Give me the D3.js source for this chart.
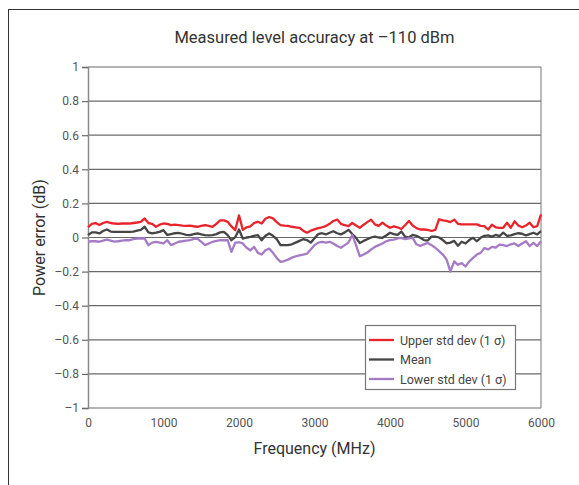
<!DOCTYPE html>
<html>
<head>
<meta charset="utf-8">
<script src="https://cdn.jsdelivr.net/npm/d3@7"></script>
<style>
  body { margin: 0; background: #fff; }
  text { font-family: Roboto, "Liberation Sans", sans-serif; }
</style>
</head>
<body>
<div id="chart"></div>
<script>
// frequency grid, MHz (every 50 MHz)
const freq = d3.range(0, 6001, 50);

const upper = [
  0.06, 0.08, 0.085, 0.073, 0.085, 0.092, 0.085, 0.082, 0.08, 0.082,
  0.082, 0.082, 0.085, 0.088, 0.092, 0.112, 0.085, 0.08, 0.063, 0.075,
  0.082, 0.08, 0.073, 0.075, 0.073, 0.07, 0.068, 0.07, 0.066, 0.063,
  0.068, 0.072, 0.068, 0.063, 0.08, 0.1, 0.1, 0.092, 0.065, 0.043,
  0.13, 0.045, 0.06, 0.065, 0.085, 0.092, 0.082, 0.11, 0.12, 0.112,
  0.09, 0.073, 0.07, 0.068, 0.063, 0.06, 0.057, 0.04, 0.028, 0.04,
  0.048, 0.055, 0.06, 0.067, 0.08, 0.097, 0.105, 0.08, 0.072, 0.067,
  0.085, 0.07, 0.057, 0.075, 0.09, 0.105, 0.077, 0.068, 0.087, 0.07,
  0.057, 0.065, 0.06, 0.05, 0.072, 0.097, 0.07, 0.055, 0.047, 0.047,
  0.045, 0.038, 0.045, 0.107, 0.1, 0.097, 0.09, 0.105, 0.08, 0.077,
  0.077, 0.077, 0.077, 0.077, 0.068, 0.067, 0.047, 0.075, 0.06, 0.057,
  0.057, 0.087, 0.057, 0.095, 0.07, 0.06, 0.07, 0.087, 0.06, 0.067,
  0.136
];

const mean = [
  0.014, 0.03, 0.03, 0.024, 0.038, 0.047, 0.035, 0.033, 0.033, 0.033,
  0.033, 0.033, 0.035, 0.04, 0.045, 0.063, 0.03, 0.024, 0.028, 0.033,
  0.043, 0.015, 0.02, 0.025, 0.027, 0.022, 0.016, 0.014, 0.02, 0.024,
  0.018, 0.014, 0.012, 0.014, 0.02, 0.03, 0.033, 0.014, -0.016, 0.002,
  0.047, -0.006, 0.0, 0.004, 0.01, 0.014, -0.016, 0.01, 0.024, 0.01,
  -0.01, -0.045, -0.045, -0.045, -0.04, -0.03, -0.02, -0.01, -0.015, -0.03,
  -0.005, 0.02, 0.025, 0.018, 0.028, 0.037, 0.025, 0.018, 0.03, 0.045,
  0.02, -0.002, -0.032, -0.02, -0.01, 0.0, 0.005, 0.0, -0.002, 0.012,
  0.028, 0.02, 0.015, 0.035, 0.005, 0.0, 0.015, 0.01, -0.002, -0.015,
  -0.018, 0.005, 0.005, 0.0, -0.015, -0.035, -0.03, -0.02, -0.048, -0.025,
  -0.035, -0.015, -0.002, -0.022, -0.002, 0.01, 0.012, 0.005, 0.015, 0.008,
  0.028, 0.01, 0.012, 0.02, 0.025, 0.022, 0.012, 0.02, 0.028, 0.018,
  0.037
];

const lower = [
  -0.025, -0.022, -0.022, -0.025, -0.018, -0.012, -0.018, -0.024, -0.022, -0.018,
  -0.016, -0.016, -0.01, -0.006, -0.006, -0.006, -0.045, -0.03, -0.025, -0.03,
  -0.035, -0.016, -0.045, -0.035, -0.025, -0.022, -0.018, -0.016, -0.008, -0.006,
  -0.025, -0.045, -0.035, -0.025, -0.02, -0.016, -0.016, -0.016, -0.084, -0.03,
  -0.028, -0.035, -0.06, -0.075, -0.055, -0.09, -0.1, -0.075, -0.065, -0.09,
  -0.12, -0.143, -0.138, -0.13, -0.118, -0.11, -0.105, -0.1, -0.095, -0.07,
  -0.045, -0.03, -0.025, -0.03, -0.025, -0.035, -0.05, -0.06, -0.045, -0.03,
  0.015, -0.045, -0.11, -0.1, -0.088, -0.07, -0.055, -0.045, -0.035, -0.022,
  -0.015, -0.012, -0.005, -0.002, -0.01, -0.005, -0.002, -0.04, -0.05, -0.04,
  -0.032, -0.045, -0.06, -0.08, -0.1, -0.13, -0.2, -0.14, -0.16, -0.15,
  -0.17, -0.14, -0.12, -0.1, -0.09, -0.062, -0.07, -0.055, -0.06, -0.042,
  -0.045, -0.05, -0.04, -0.035, -0.05, -0.035, -0.022, -0.05, -0.032, -0.05,
  -0.022
];

const xTicks = [0, 1000, 2000, 3000, 4000, 5000, 6000];
const yTicks = [1, 0.8, 0.6, 0.4, 0.2, 0, -0.2, -0.4, -0.6, -0.8, -1];
const seriesNames = ["Upper std dev (1 σ)", "Mean", "Lower std dev (1 σ)"];
const seriesColors = ["#e8232b", "#454545", "#a67bc6"];

const w = 579;
const h = 485;
const pLeft = 88, pRight = 541, pTop = 67, pBottom = 408;

let svg = d3.select("#chart").append("svg")
            .attr("width", w)
            .attr("height", h);

// outer frame
svg.append("rect")
   .attr("x", 8.5).attr("y", 9.5)
   .attr("width", 620).attr("height", 600)
   .attr("fill", "none").attr("stroke", "#333").attr("stroke-width", 1);

let xScale = d3.scaleLinear().domain([0, 6000]).range([pLeft, pRight]);
let yScale = d3.scaleLinear().domain([-1, 1]).range([pBottom, pTop]);

// gridlines
svg.append("g")
   .selectAll("line").data(yTicks).enter().append("line")
   .attr("x1", pLeft).attr("x2", pRight)
   .attr("y1", d => yScale(d)).attr("y2", d => yScale(d))
   .attr("stroke", "#6a6a6a").attr("stroke-width", 1.2);

// right border
svg.append("line")
   .attr("x1", pRight).attr("x2", pRight).attr("y1", pTop).attr("y2", pBottom)
   .attr("stroke", "#8a8a8a").attr("stroke-width", 1.2);

const fmt = d => (d < 0 ? "–" : "") + d3.format("~g")(Math.abs(d));

let yAxis = d3.axisLeft(yScale).tickValues(yTicks).tickFormat(fmt).tickSize(6).tickPadding(3);
let gy = svg.append("g")
   .attr("transform", "translate(" + pLeft + ",0)")
   .call(yAxis);
gy.select(".domain").attr("stroke", "#8a8a8a").attr("stroke-width", 1.5);
gy.selectAll(".tick line").attr("stroke", "#6a6a6a").attr("stroke-width", 1.2);
gy.selectAll(".tick text").attr("fill", "#555").attr("font-size", "12px")
   .attr("font-family", "Roboto, sans-serif");

let xAxis = d3.axisBottom(xScale).tickValues(xTicks).tickFormat(d3.format("d")).tickSize(0).tickPadding(10);
let gx = svg.append("g")
   .attr("transform", "translate(0," + pBottom + ")")
   .call(xAxis);
gx.select(".domain").remove();
gx.selectAll(".tick text").attr("fill", "#555").attr("font-size", "12px")
   .attr("font-family", "Roboto, sans-serif");

// series
const series = [upper, mean, lower];
const line = d3.line()
   .x((d, i) => xScale(freq[i]))
   .y(d => yScale(d));

series.forEach((s, k) => {
  svg.append("path")
     .datum(s)
     .attr("d", line)
     .attr("fill", "none")
     .attr("stroke", seriesColors[k])
     .attr("stroke-width", 2.3)
     .attr("stroke-linejoin", "round");
});

// title
svg.append("text")
   .attr("x", (pLeft + pRight) / 2).attr("y", 43)
   .attr("text-anchor", "middle")
   .attr("font-size", "16.5px").attr("fill", "#333")
   .text("Measured level accuracy at –110 dBm");

// axis titles
svg.append("text")
   .attr("text-anchor", "middle")
   .attr("transform", "translate(" + (pLeft + pRight) / 2 + "," + 454 + ")")
   .attr("font-size", "16px").attr("fill", "#333")
   .text("Frequency (MHz)");

svg.append("text")
   .attr("text-anchor", "middle")
   .attr("transform", "translate(45," + yScale(0) + ")rotate(-90)")
   .attr("font-size", "16px").attr("fill", "#333")
   .text("Power error (dB)");

// legend
let lg = svg.append("g").attr("transform", "translate(365,325)");
lg.append("rect")
  .attr("x", 0.5).attr("y", 0.5).attr("width", 150).attr("height", 64)
  .attr("fill", "#fff").attr("stroke", "#777").attr("stroke-width", 1.2);
seriesNames.forEach((name, k) => {
  let yy = 15 + k * 19.5;
  lg.append("line")
    .attr("x1", 4).attr("x2", 29).attr("y1", yy).attr("y2", yy)
    .attr("stroke", seriesColors[k]).attr("stroke-width", 2.3);
  lg.append("text")
    .attr("x", 35).attr("y", yy + 4.5)
    .attr("font-size", "12.5px").attr("fill", "#444")
    .text(name);
});
</script>
</body>
</html>
